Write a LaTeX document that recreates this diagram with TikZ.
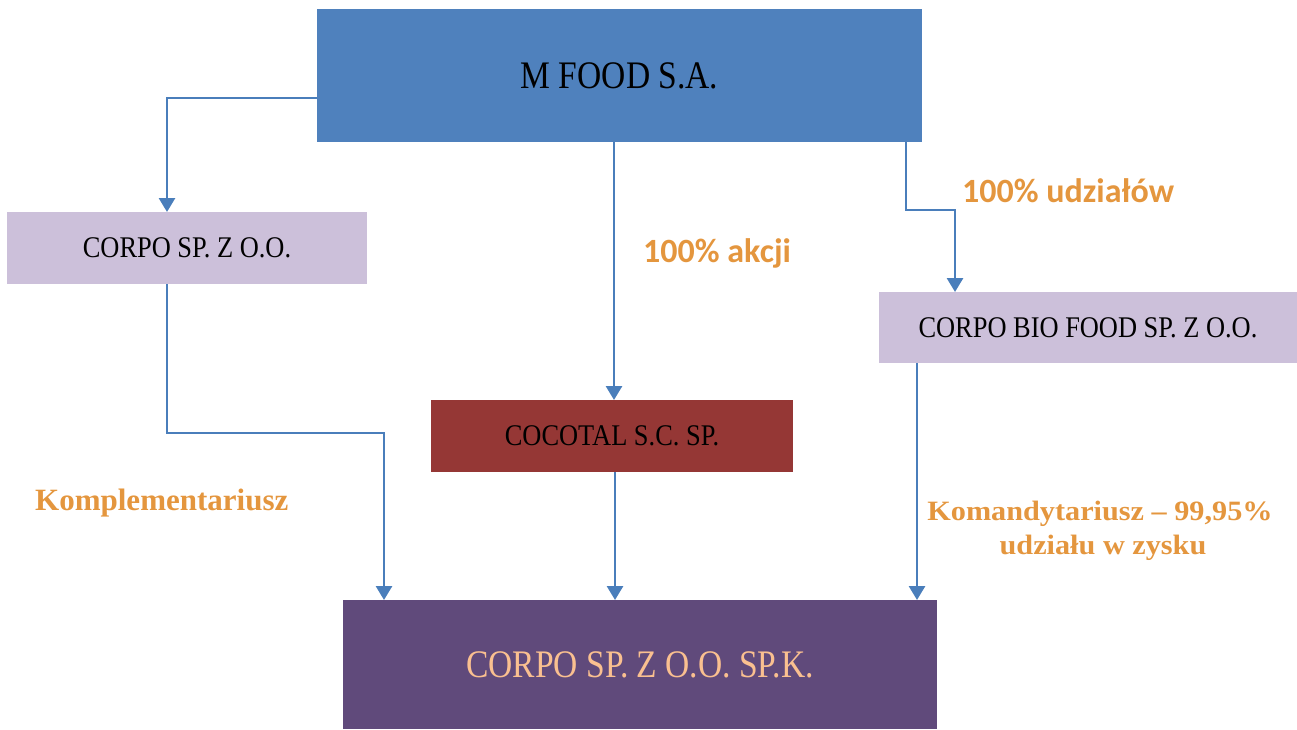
\documentclass[tikz,border=0pt]{standalone}
\usepackage{fontspec}
\usepackage{graphicx}
\setmainfont{Liberation Serif}
\newfontfamily\lblfont{Carlito}
\usetikzlibrary{arrows.meta}
\definecolor{boxblue}{HTML}{4F81BD}
\definecolor{lav}{HTML}{CCC0DA}
\definecolor{brick}{HTML}{953735}
\definecolor{plum}{HTML}{604A7B}
\definecolor{peach}{HTML}{FAC090}
\definecolor{arrblue}{HTML}{4A7EBB}
\definecolor{orng}{RGB}{228,150,62}
\tikzset{
  entity/.style={rectangle, inner sep=0pt, outer sep=0pt, anchor=north west, text=black},
  arr/.style={draw=arrblue, line width=2.8pt, -{Triangle[width=16pt,length=14pt]}},
  pct/.style={anchor=base west, inner sep=0pt, text=orng, font=\lblfont\bfseries\fontsize{34}{34}\selectfont},
  role/.style={inner sep=0pt, text=orng, anchor=base}
}
\newcommand{\bigtxt}[1]{\scalebox{0.86}[1]{\fontsize{39}{39}\selectfont #1}}
\newcommand{\smltxt}[1]{\scalebox{0.88}[1]{\fontsize{30}{30}\selectfont #1}}
\newcommand{\roletxt}[1]{\scalebox{1.08}[1]{\fontsize{28}{28}\selectfont\bfseries #1}}
\begin{document}
\begin{tikzpicture}[x=1pt,y=-1pt]
\useasboundingbox (0,0) rectangle (1297,729);
\node[entity, fill=boxblue, minimum width=605pt, minimum height=133pt] (mfood) at (317,9) {\bigtxt{M FOOD S.A.}};
\node[entity, fill=lav, minimum width=360pt, minimum height=72pt] (corpo) at (7,212) {\smltxt{CORPO SP. Z O.O.}};
\node[entity, fill=lav, minimum width=418pt, minimum height=71pt] (bio) at (879,292) {\smltxt{CORPO BIO FOOD SP. Z O.O.}};
\node[entity, fill=brick, minimum width=362pt, minimum height=72pt] (cocotal) at (431,400) {\smltxt{COCOTAL S.C. SP.}};
\node[entity, fill=plum, minimum width=594pt, minimum height=129pt, text=peach] (spk) at (343,600) {\bigtxt{CORPO SP. Z O.O. SP.K.}};

\node[pct] (lakcji) at (643,262) {100\% akcji};
\node[pct] (ludz) at (962,202) {100\% udziałów};
\node[role, anchor=base west] (lkompl) at (35,510) {\fontsize{31}{31}\selectfont\bfseries Komplementariusz};
\node[role] (lkoman1) at (1100,520) {\roletxt{Komandytariusz – 99,95\%}};
\node[role] (lkoman2) at (1103,554) {\roletxt{udziału w zysku}};

\coordinate (c2) at ([xshift=2pt]cocotal.north);
\coordinate (c5) at ([xshift=3pt]cocotal.south);
\coordinate (c6) at ([xshift=38pt]bio.south west);

\draw[arr] ([yshift=-22.5pt]mfood.west) -| ([xshift=-20pt]corpo.north);
\draw[arr] (c2 |- mfood.south) -- (c2);
\draw[arr] ([xshift=-16pt]mfood.south east) -- ++(0,68) -| ([xshift=76pt]bio.north west);
\draw[arr] ([xshift=-20pt]corpo.south) -- ++(0,149) -| ([xshift=41pt]spk.north west);
\draw[arr] (c5) -- (c5 |- spk.north);
\draw[arr] (c6) -- (c6 |- spk.north);
\end{tikzpicture}
\end{document}
